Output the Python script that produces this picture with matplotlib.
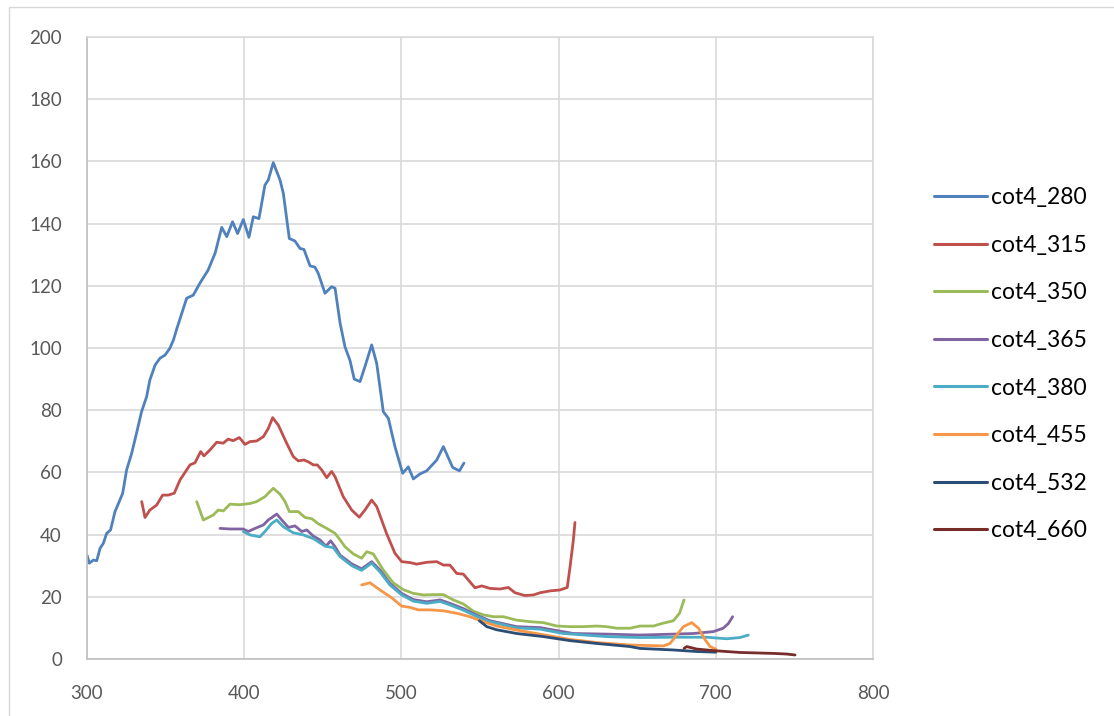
import matplotlib
matplotlib.use("Agg")
import matplotlib.pyplot as plt
from matplotlib.patches import Rectangle

# ---- data ----
x280 = [300, 301.5, 304, 306.2, 308.3, 310.4, 312.5, 315, 317.8, 320.5, 322.7, 325.2, 328.4, 331.5, 334.7,
        337.9, 340, 343.3, 346.4, 349.6, 352.7, 355, 357, 363.4, 367.6, 372, 377, 381.5, 385.7, 388.9,
        392.6, 395.8, 399.4, 403, 405.8, 409.4, 413.2, 415.3, 418.5, 422.8, 424.9, 428.7, 432.3, 435.5,
        438, 441.9, 445, 447.1, 451.4, 455.6, 457.8, 461, 464.1, 467.3, 470, 473.7, 476.8, 481.1, 484.3,
        488.5, 491.7, 495.9, 500.8, 504.4, 507.6, 511.8, 516.1, 522.5, 526.7, 532.6, 536.9, 539.8]
y280 = [33.4, 30.8, 31.8, 31.6, 35.6, 37.2, 40.4, 41.5, 47.4, 50.6, 53.3, 60.8, 66.1, 72.6, 79.5,
        84.3, 89.7, 94.5, 96.7, 97.7, 99.9, 102.6, 106, 116, 117, 121, 125, 130.5, 138.8, 135.8,
        140.6, 136.8, 141.3, 135.6, 142.2, 141.6, 152.4, 154, 159.6, 154, 149.7, 135.2, 134.4, 132,
        131.7, 126.4, 126, 124, 117.6, 119.7, 119.2, 108, 100.4, 96, 90, 89.2, 94, 101, 95,
        79.5, 77.4, 68.3, 59.7, 61.8, 57.9, 59.5, 60.5, 64, 68.3, 61.6, 60.5, 63]

x315 = [334.8, 336.9, 340, 344.3, 348.1, 351.7, 355.5, 359.2, 365.5, 368.7, 372.3, 374.4, 378.2, 382.5,
        386.7, 389.8, 393, 396.9, 400.5, 403.7, 407.9, 412.2, 415.3, 418.1, 421.7, 427, 431.2, 434.4,
        438, 440.8, 444, 446.5, 449.3, 452.5, 455.6, 457.8, 463, 468.4, 473.2, 476.8, 481.1, 484.3,
        490.6, 495.9, 500.2, 505.5, 509.7, 516.1, 522.5, 526.7, 530.9, 535.2, 539.4, 546.8, 551.1,
        556.4, 562.7, 568, 572.3, 578.6, 584, 588.2, 594.5, 600.9, 605.5, 607.3, 609.4, 610.4]
y315 = [50.6, 45.5, 47.9, 49.5, 52.7, 52.7, 53.3, 57.6, 62.4, 63.1, 66.7, 65.3, 67.2, 69.7,
        69.4, 70.7, 70.2, 71.2, 69, 69.9, 70.1, 71.5, 74.1, 77.6, 75.2, 69.4, 65.1, 63.7,
        64, 63.4, 62.4, 62.4, 60.8, 58.3, 60.3, 58.6, 52.2, 47.9, 45.6, 47.9, 51.1, 49,
        40.3, 34, 31.3, 31, 30.5, 31.1, 31.3, 30.2, 30.2, 27.5, 27.3, 22.9, 23.5,
        22.7, 22.5, 23, 21.3, 20.4, 20.6, 21.3, 21.9, 22.2, 23, 29.7, 38.3, 43.9]

x350 = [369.8, 374, 377.2, 380.3, 383.5, 386.7, 391, 397.3, 403.7, 407.9, 413.2, 418.5, 422.8, 426,
        428.7, 434.4, 438.7, 443, 447.1, 452.5, 457.8, 461, 464.1, 469.4, 474.7, 477.9, 482.1, 488.5,
        494.8, 501.2, 507.6, 514, 520.3, 526.7, 533, 539.4, 545.7, 552.1, 558.5, 564.8, 573.3, 581.8,
        590.3, 598.8, 607.3, 615.7, 624.2, 630.6, 637, 645.4, 651.8, 660.3, 665.6, 673, 676.9, 679.8]
y350 = [50.6, 44.7, 45.5, 46.3, 47.9, 47.6, 49.8, 49.6, 50, 50.6, 52.2, 54.9, 53, 50.6,
        47.4, 47.4, 45.5, 45.1, 43.5, 42, 40.4, 38.3, 36.1, 33.8, 32.4, 34.5, 33.8, 28.6,
        24.5, 22.3, 21.1, 20.6, 20.7, 20.7, 19, 17.7, 15.4, 14.2, 13.6, 13.6, 12.5, 12,
        11.7, 10.6, 10.4, 10.4, 10.6, 10.4, 9.9, 9.9, 10.6, 10.6, 11.4, 12.3, 14.7, 19]

x365 = [384.6, 391, 399.4, 402.6, 406.9, 412.2, 415.3, 420.7, 423.9, 428.1, 432.3, 436.6, 439.8, 444,
        448.2, 452, 455, 457.8, 461, 468.4, 474.7, 481.1, 486.4, 492.7, 500.2, 507.6, 516.1, 524.6,
        530.9, 539.4, 547.9, 556.4, 573.3, 588.2, 609.4, 630.6, 651.8, 673, 685.7, 698.4, 704.7,
        708, 710.7]
y365 = [42, 41.8, 41.8, 41, 42, 43.1, 44.7, 46.6, 44.7, 42.3, 42.8, 41, 41.5, 39.5,
        38.3, 36.3, 38, 36.1, 33.4, 30.6, 29, 31.3, 28.6, 24.3, 21.1, 19.1, 18.4, 19,
        17.9, 16.2, 14.1, 12.3, 10.4, 10.1, 8.2, 8, 7.7, 8, 8.2, 8.8, 9.9,
        11.4, 13.6]

x380 = [399.4, 403.7, 410, 413.2, 417.5, 420.7, 424.9, 431.2, 437.6, 444, 451.4, 456.7, 461, 468.4,
        474.7, 481.1, 486.4, 492.7, 500.2, 507.6, 516.1, 524.6, 530.9, 539.4, 547.9, 556.4, 573.3,
        588.2, 603, 630.6, 651.8, 673, 694.2, 706.9, 715.4, 720.7]
y380 = [41, 39.9, 39.3, 41, 43.6, 44.7, 42.5, 40.6, 39.9, 38.7, 36.3, 35.8, 32.9, 30,
        28.5, 30.8, 28, 23.8, 20.6, 18.6, 17.9, 18.5, 17.4, 15.7, 13.7, 12, 10,
        9.6, 8.2, 7.2, 6.9, 7, 7, 6.5, 6.9, 7.7]

x455 = [474.7, 480, 486.4, 493.8, 500.2, 505.5, 510.7, 518.2, 526.7, 535.2, 543.6, 552.1, 560.6,
        573.3, 590.3, 607.3, 624.2, 645.4, 666.6, 670.9, 675.1, 679.4, 684.7, 689, 693.3, 696.4, 700.2]
y455 = [23.8, 24.5, 22.2, 19.7, 17, 16.6, 15.8, 15.8, 15.5, 14.7, 13.6, 12, 10.6,
        9.3, 7.8, 6.3, 5.3, 4.5, 4.2, 5, 7.7, 10.4, 11.7, 9.9, 6.1, 4, 3.1]

x532 = [549.6, 554.3, 560.6, 573.3, 590.3, 607.3, 624.2, 645.4, 651.8, 673, 687.8, 700]
y532 = [12.3, 10.4, 9.4, 8.2, 7.2, 5.9, 5, 4, 3.4, 2.9, 2.4, 2.2]

x660 = [679.8, 681.5, 687.8, 698.4, 715.4, 736.6, 745, 750.4]
y660 = [3.4, 4, 3.2, 2.7, 2.1, 1.8, 1.6, 1.3]

labels = ["cot4_280", "cot4_315", "cot4_350", "cot4_365", "cot4_380", "cot4_455", "cot4_532", "cot4_660"]
colors = ["#4F81BD", "#C0504D", "#9BBB59", "#8064A2", "#4BACC6", "#F79646", "#2C4D75", "#772C2A"]
series = [(x280, y280), (x315, y315), (x350, y350), (x365, y365),
          (x380, y380), (x455, y455), (x532, y532), (x660, y660)]

x_ticks = [300, 400, 500, 600, 700, 800]
y_ticks = [0, 20, 40, 60, 80, 100, 120, 140, 160, 180, 200]

# ---- figure ----
plt.rcParams['font.family'] = ['Lato', 'DejaVu Sans']
W, H = 1114, 716
fig = plt.figure(figsize=(W / 100, H / 100), dpi=100)
ax = fig.add_axes([87 / W, 1 - 659 / H, (873 - 87) / W, (659 - 37) / H])

# outer chart border
fig.add_artist(Rectangle((9 / W, -0.2), 1.2, 1.2 - 7 / H, transform=fig.transFigure,
                         fill=False, edgecolor="#d9d9d9", linewidth=1.0))

for (xs, ys), lab, c in zip(series, labels, colors):
    ax.plot(xs, ys, color=c, lw=2.0, label=lab, solid_joinstyle='round', solid_capstyle='round')

ax.set_xlim(300, 800)
ax.set_ylim(0, 200)
ax.set_xticks(x_ticks)
ax.set_yticks(y_ticks)
ax.grid(True, color="#d9d9d9", lw=1.2)
ax.set_axisbelow(True)
for s in ["top", "right"]:
    ax.spines[s].set_color("#d9d9d9")
    ax.spines[s].set_linewidth(1.2)
for s in ["left", "bottom"]:
    ax.spines[s].set_color("#bfbfbf")
    ax.spines[s].set_linewidth(1.2)
ax.tick_params(axis='both', length=0, labelcolor="#595959", labelsize=13.5)
ax.tick_params(axis='x', pad=19)
ax.tick_params(axis='y', pad=18)

leg = ax.legend(loc='upper left', bbox_to_anchor=(925 / W, 1 - 178 / H),
                bbox_transform=fig.transFigure, frameon=False, fontsize=16.5,
                handlelength=2.3, handletextpad=0.2, labelspacing=1.16, borderaxespad=0)
for line in leg.get_lines():
    line.set_linewidth(2.2)

fig.savefig("out.png", dpi=100, facecolor="white")
